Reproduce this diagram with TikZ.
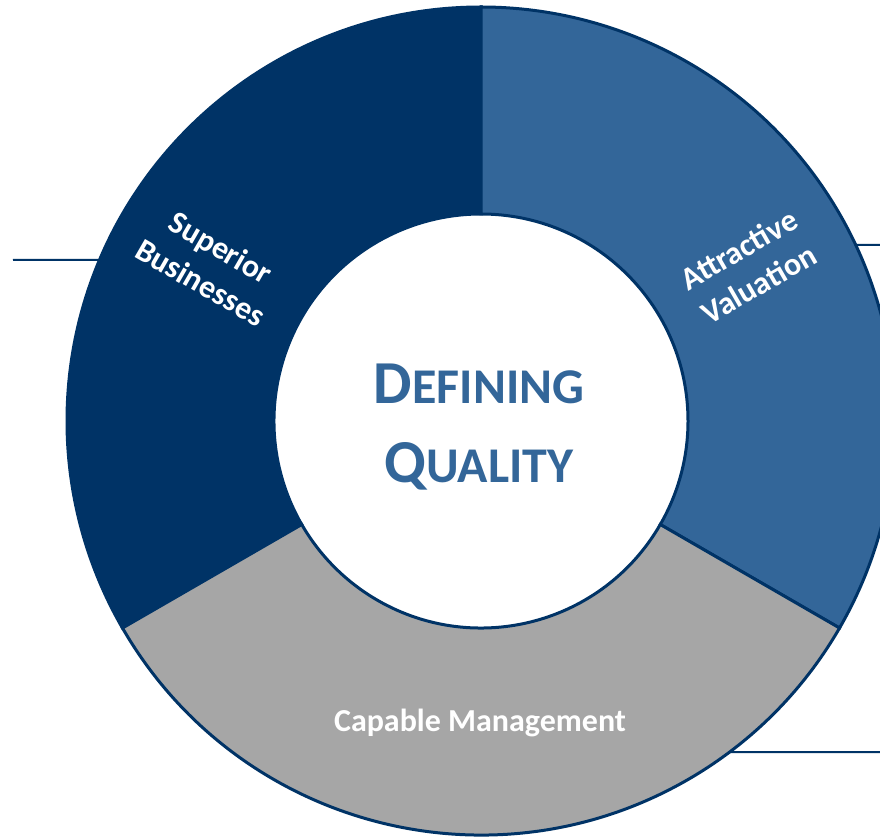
\documentclass[tikz,border=0pt]{standalone}
\usepackage{fontspec}
\setmainfont{Carlito}
\usetikzlibrary{calc}
\definecolor{navy}{RGB}{0,51,102}
\definecolor{steel}{RGB}{51,102,153}
\definecolor{silver}{RGB}{166,166,166}
\tikzset{%
	segment/.style  = {draw=navy, line width=3pt}, % ring piece
	seglabel/.style = {text=white, font=\fontsize{32}{40}\selectfont\bfseries, align=center},
	heading/.style  = {text=steel, font=\fontsize{61}{79}\selectfont\bfseries, align=center},
	leader/.style   = {draw=navy, line width=2pt}, % side line
}
\newcommand{\fakesc}[2]{{\fontsize{61}{79}\selectfont #1}{\fontsize{50}{79}\selectfont #2}}

\begin{document}
\begin{tikzpicture}[x=1pt,y=1pt]
	\clip (0,0) rectangle (880,836);
	\fill[white] (0,0) rectangle (880,836);
	\coordinate (c) at (481,415);
	
	% side lines
	\coordinate (w1) at (13,576);
	\coordinate (w2) at (880,591);
	\coordinate (w3) at (880,84);
	\coordinate (e1) at ($(c)+(157.1:414)$);
	\coordinate (e2) at ($(c)+(25.2:414)$);
	\coordinate (e3) at ($(c)+(-53.1:414)$);
	\draw[leader] (w1) -- (e1);
	\draw[leader] (w2) -- (e2);
	\draw[leader] (w3) -- (e3);
	
	% ring
	\draw[segment,fill=navy] ($(c)+(90:414)$) arc[start angle=90,end angle=210,radius=414] -- ($(c)+(210:207)$) arc[start angle=210,end angle=90,radius=207] -- cycle;
	\draw[segment,fill=steel] ($(c)+(-30:414)$) arc[start angle=-30,end angle=90,radius=414] -- ($(c)+(90:207)$) arc[start angle=90,end angle=-30,radius=207] -- cycle;
	\draw[segment,fill=silver] ($(c)+(210:414)$) arc[start angle=210,end angle=330,radius=414] -- ($(c)+(330:207)$) arc[start angle=330,end angle=210,radius=207] -- cycle;
	
	\node[seglabel,rotate=-30] (sb) at ($(c)+(150:312)$) {Superior\\Businesses};
	\node[seglabel,rotate=30] (av) at ($(c)+(30:309)$) {Attractive\\Valuation};
	\node[seglabel] (cm) at (480,113) {Capable Management};
	\node[heading] (dq) at (479,409) {\fakesc{D}{EFINING}\\\fakesc{Q}{UALITY}};
\end{tikzpicture}
\end{document}
